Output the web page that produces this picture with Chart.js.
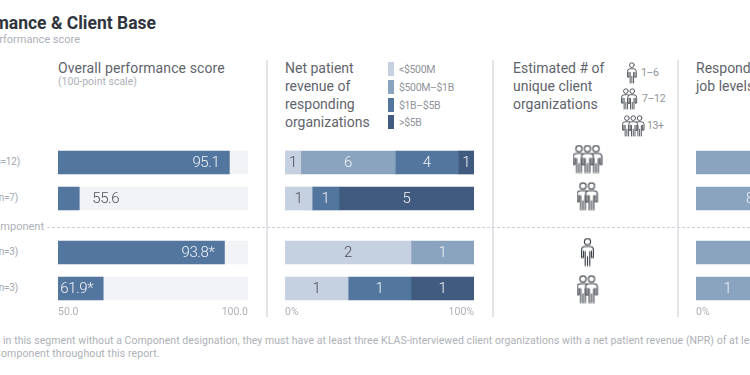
<!DOCTYPE html>
<html>
<head>
<meta charset="utf-8">
<script src="https://cdn.jsdelivr.net/npm/chart.js@4"></script>
<style>
  html, body { margin: 0; padding: 0; background: #fff; }
  #page { position: relative; width: 750px; height: 375px; overflow: hidden; font-family: Roboto, sans-serif; color: #565B63; }
  #page div, #page canvas { position: absolute; }
  .txt { white-space: nowrap; }
  .head { font-size: 14px; line-height: 18px; color: #5F646C; }
  .small { font-size: 10.5px; color: #ADB1B7; }
  .leg { font-size: 10.5px; letter-spacing: -0.35px; color: #8F949B; }
  .divider { width: 2px; background: #E3E5E8; top: 60px; height: 257px; }
</style>
</head>
<body>
<div id="page">
  <div class="txt" style="right:594px;top:13px;font-size:17.5px;font-weight:700;color:#30353D">Performance &amp; Client Base</div>
  <div class="txt small" style="right:670px;top:33px;font-size:11px">performance score</div>

  <div class="divider" style="left:266px"></div>
  <div class="divider" style="left:492px"></div>
  <div class="divider" style="left:677px"></div>
  <div style="left:47px;right:0;top:227px;border-top:1px dashed #CFD2D6"></div>
  <div class="txt small" style="right:706px;top:220px;font-size:11px">Component</div>

  <div class="txt head" style="left:58px;top:59px;letter-spacing:0.1px">Overall performance score</div>
  <div class="txt small" style="left:58px;top:75px">(100-point scale)</div>
  <div class="txt head" style="left:285px;top:59px">Net patient<br>revenue of<br>responding<br>organizations</div>
  <div class="txt head" style="left:513px;top:59px">Estimated # of<br>unique client<br>organizations</div>
  <div class="txt head" style="left:696px;top:59px">Respondents'<br>job levels</div>

  <div class="txt small" style="left:3px;top:334px;letter-spacing:0.06px">in this segment without a Component designation, they must have at least three KLAS-interviewed client organizations with a net patient revenue (NPR) of at least</div>
  <div class="txt small" style="left:-6px;top:347px;letter-spacing:0.12px">Component throughout this report.</div>

  <canvas id="score-chart" style="left:58px;top:140px"></canvas>
  <canvas id="revenue-chart" style="left:285px;top:140px"></canvas>
  <canvas id="clients-chart" style="left:513px;top:140px"></canvas>
  <canvas id="levels-chart" style="left:696px;top:140px"></canvas>
</div>

<script>
const rowLabels = ['(n=12)', '(n=7)', '(n=3)', '(n=3)'];
const rowEnds = [20, 18, 18, 18];

const scores = [95.1, 55.6, 93.8, 61.9];
const scoreLabels = ['95.1', '55.6', '93.8*', '61.9*'];
const scoreTrack = [100, 100, 100, 100];
const scoreTicks = ['50.0', '100.0'];

const revenueNames = ['<$500M', '$500M–$1B', '$1B–$5B', '>$5B'];
const revenueUnder500 = [1, 1, 2, 1];
const revenue500to1B = [6, 0, 1, 0];
const revenue1to5B = [4, 1, 0, 1];
const revenueOver5B = [1, 5, 0, 1];
const percentTicks = ['0%', '100%'];

const clientTiers = [3, 2, 1, 2];
const clientTierNames = ['1–6', '7–12', '13+'];

const levelsFirst = [9, 8, 2, 1];
const levelsRest = [5, 6, 1, 2];

const LIGHT = '#C5D1E0', MID = '#8AA3BF', BLUE = '#53769F', DARK = '#405A80';
const TRACK = '#F1F3F6', TEXT_DARK = '#4A4F57', TICK = '#ADB1B7';

// rows are not evenly spaced (component line sits between 2 and 3), so use 18px slots
const slots = [0, 2, 5, 7];
function toSlots(values) {
  const out = new Array(8).fill(null);
  slots.forEach((s, i) => { out[s] = values[i]; });
  return out;
}
const slotLabels = toSlots(rowLabels).map((v, i) => v || 'gap' + i);

const barLabels = {
  id: 'barLabels',
  afterDatasetsDraw(chart) {
    const ctx = chart.ctx;
    ctx.save();
    ctx.font = '300 15px Roboto';
    ctx.letterSpacing = '-0.4px';
    ctx.textBaseline = 'middle';
    chart.data.datasets.forEach((ds, d) => {
      if (!ds.texts) return;
      chart.getDatasetMeta(d).data.forEach((bar, i) => {
        const text = ds.texts[i];
        if (!text) return;
        if (ds.scoreStyle) {
          const narrow = bar.x - chart.scales.x.left < 30;
          ctx.textAlign = narrow ? 'left' : 'right';
          ctx.fillStyle = narrow ? TEXT_DARK : '#F0F3F7';
          ctx.fillText(text, narrow ? bar.x + 13 : bar.x - 10, bar.y + 0.5);
        } else {
          ctx.textAlign = 'center';
          ctx.fillStyle = ds.textColor;
          ctx.fillText(text, (bar.x + bar.base) / 2, bar.y + 0.5);
        }
      });
    });
    ctx.restore();
  }
};

function axisOptions(min, max, ticks) {
  return {
    x: {
      min: min, max: max, stacked: false,
      afterBuildTicks: s => { s.ticks = [{ value: min }, { value: max }]; },
      afterFit: s => { s.height = 32.5; s.paddingLeft = 0; s.paddingRight = 0; },
      border: { display: false },
      grid: { display: false, drawTicks: false },
      ticks: {
        align: 'inner', padding: 9, maxRotation: 0, color: TICK, font: { family: 'Roboto', size: 10.5 },
        callback: (v, i) => ticks[i]
      }
    },
    y: { display: false }
  };
}

function barConfig(datasets, scales) {
  return {
    type: 'bar',
    data: { labels: slotLabels, datasets: datasets },
    options: {
      indexAxis: 'y', responsive: false, animation: false, events: [],
      layout: { padding: { top: 13.5 } },
      plugins: { legend: { display: false }, tooltip: { enabled: false } },
      scales: scales
    },
    plugins: [barLabels]
  };
}

function sizeCanvas(id, w) {
  const c = document.getElementById(id);
  c.width = w; c.height = 190;
  return c;
}

new Chart(sizeCanvas('score-chart', 190), barConfig([
  { data: toSlots(scores), texts: toSlots(scoreLabels), scoreStyle: true, backgroundColor: BLUE, barThickness: 23, grouped: false, order: 1, clip: false },
  { data: toSlots(scoreTrack), backgroundColor: TRACK, barThickness: 23, grouped: false, order: 2, clip: false }
], axisOptions(50, 100, scoreTicks)));

function stackedSets(series, colors, textColors, totals) {
  return series.map((values, k) => ({
    data: toSlots(values.map((v, i) => v / totals[i] * 100)),
    texts: toSlots(values.map(v => v ? String(v) : '')),
    backgroundColor: colors[k], textColor: textColors[k], barThickness: 23, clip: false
  }));
}

function stackedScales() {
  const scales = axisOptions(0, 100, percentTicks);
  scales.x.stacked = true;
  scales.y.stacked = true;
  return scales;
}

const revenueSeries = [revenueUnder500, revenue500to1B, revenue1to5B, revenueOver5B];
const revenueTotals = rowLabels.map((_, i) => revenueSeries.reduce((t, s) => t + s[i], 0));
new Chart(sizeCanvas('revenue-chart', 189), barConfig(
  stackedSets(revenueSeries, [LIGHT, MID, BLUE, DARK], [TEXT_DARK, '#F0F3F7', '#F0F3F7', '#F0F3F7'], revenueTotals),
  stackedScales()));

const levelTotals = levelsFirst.map((v, i) => v + levelsRest[i]);
new Chart(sizeCanvas('levels-chart', 189), barConfig(
  stackedSets([levelsFirst, levelsRest], [MID, BLUE], ['#F0F3F7', '#F0F3F7'], levelTotals),
  stackedScales()));

// people icons, used as point styles
function drawPerson(ctx, x, s) {
  ctx.save();
  ctx.translate(x, 0);
  ctx.scale(s, s);
  ctx.lineWidth = 1.15;
  ctx.strokeStyle = '#3C4148';
  ctx.fillStyle = '#fff';
  ctx.lineJoin = 'round';
  ctx.lineCap = 'round';
  // white backing so the person in front hides the ones behind
  ctx.beginPath();
  ctx.moveTo(0.6, 20);
  ctx.lineTo(0.6, 12.5);
  ctx.quadraticCurveTo(0.6, 9, 4.2, 9);
  ctx.lineTo(8.8, 9);
  ctx.quadraticCurveTo(12.4, 9, 12.4, 12.5);
  ctx.lineTo(12.4, 20);
  ctx.lineTo(9, 20);
  ctx.lineTo(9, 28);
  ctx.lineTo(4, 28);
  ctx.lineTo(4, 20);
  ctx.closePath();
  ctx.fill();
  // shoulders and arms
  ctx.beginPath();
  ctx.moveTo(2.5, 20); ctx.lineTo(0.6, 20); ctx.lineTo(0.6, 12.5);
  ctx.quadraticCurveTo(0.6, 9, 4.2, 9);
  ctx.lineTo(8.8, 9);
  ctx.quadraticCurveTo(12.4, 9, 12.4, 12.5);
  ctx.lineTo(12.4, 20); ctx.lineTo(10.5, 20);
  ctx.moveTo(2.5, 13.5); ctx.lineTo(2.5, 20);
  ctx.moveTo(10.5, 13.5); ctx.lineTo(10.5, 20);
  // legs
  ctx.moveTo(4.2, 14); ctx.lineTo(4.2, 28);
  ctx.moveTo(8.8, 14); ctx.lineTo(8.8, 28);
  ctx.moveTo(6.5, 19); ctx.lineTo(6.5, 28);
  ctx.stroke();
  ctx.beginPath();
  ctx.arc(6.5, 4.2, 3.1, 0, Math.PI * 2);
  ctx.fill();
  ctx.stroke();
  ctx.restore();
}

function peopleIcon(count, s) {
  const c = document.createElement('canvas');
  c.width = Math.ceil((13 + (count - 1) * 8.5) * s) + 1;
  c.height = Math.ceil(29 * s);
  const ctx = c.getContext('2d');
  if (count === 1) drawPerson(ctx, 0, s);
  if (count === 2) { drawPerson(ctx, 0, s); drawPerson(ctx, 8.5 * s, s); }
  if (count === 3) { drawPerson(ctx, 0, s); drawPerson(ctx, 17 * s, s); drawPerson(ctx, 8.5 * s, s); }
  return c;
}

new Chart(sizeCanvas('clients-chart', 150), {
  type: 'line',
  data: {
    labels: slotLabels,
    datasets: [{
      data: toSlots(clientTiers.map(() => 0)),
      showLine: false, clip: false,
      pointStyle: toSlots(clientTiers).map(t => t ? peopleIcon(t, 1) : false)
    }]
  },
  options: {
    indexAxis: 'y', responsive: false, animation: false, events: [],
    layout: { padding: { top: 9.7 } },
    plugins: { legend: { display: false }, tooltip: { enabled: false } },
    scales: {
      x: { type: 'linear', min: -1, max: 1, afterFit: s => { s.height = 31.5; s.paddingLeft = 0; s.paddingRight = 0; },
        border: { display: false }, grid: { display: false, drawTicks: false }, ticks: { display: false } },
      y: { display: false, offset: true }
    }
  }
});

// html bits built from the arrays
const page = document.getElementById('page');
function addText(text, cls, css) {
  const el = document.createElement('div');
  el.className = 'txt ' + cls;
  el.style.cssText = css;
  el.textContent = text;
  page.appendChild(el);
}

const rowCenters = [162, 198, 252, 288];
rowLabels.forEach((t, i) => {
  addText(t, 'small', 'right:' + (750 - rowEnds[i]) + 'px;top:' + (rowCenters[i] - 6) + 'px;font-size:10px;letter-spacing:-0.2px;color:#A3A7AD');
});

const swatchColors = [LIGHT, MID, BLUE, DARK];
const swatchTops = [62, 80, 98, 115];
revenueNames.forEach((t, i) => {
  const sw = document.createElement('div');
  sw.style.cssText = 'left:388px;width:6px;height:14px;top:' + swatchTops[i] + 'px;background:' + swatchColors[i];
  page.appendChild(sw);
  addText(t, 'leg', 'left:399px;top:' + (swatchTops[i] + 1) + 'px');
});

const tierLefts = [627, 621, 622];
const tierTops = [62, 88, 115];
const tierTextLefts = [641, 642, 647];
clientTierNames.forEach((t, i) => {
  const icon = peopleIcon(i + 1, 0.75);
  icon.style.left = tierLefts[i] + 'px';
  icon.style.top = tierTops[i] + 'px';
  page.appendChild(icon);
  addText(t, 'leg', 'left:' + tierTextLefts[i] + 'px;top:' + (tierTops[i] + 4) + 'px');
});
</script>
</body>
</html>
